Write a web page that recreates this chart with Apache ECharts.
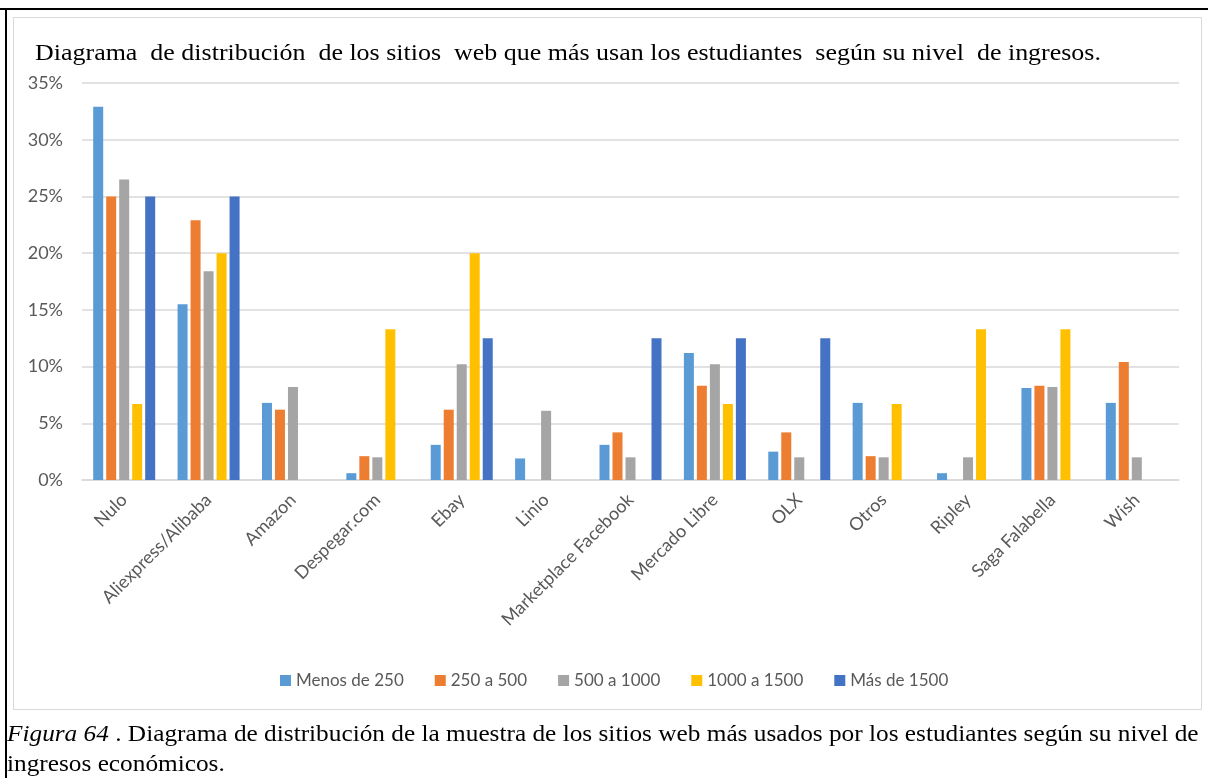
<!DOCTYPE html>
<html>
<head>
<meta charset="utf-8">
<script src="https://cdn.jsdelivr.net/npm/echarts@6/dist/echarts.min.js"></script>
<style>
  html, body { margin: 0; padding: 0; background: #ffffff; }
  #chart { width: 1208px; height: 778px; }
</style>
</head>
<body>
<div id="chart"></div>
<script>
// Sitios web más usados por nivel de ingresos (porcentaje de cada grupo)
const categories = ['Nulo', 'Aliexpress/Alibaba', 'Amazon', 'Despegar.com', 'Ebay', 'Linio',
  'Marketplace Facebook', 'Mercado Libre', 'OLX', 'Otros', 'Ripley', 'Saga Falabella', 'Wish'];
const seriesNames = ['Menos de 250', '250 a 500', '500 a 1000', '1000 a 1500', 'Más de 1500'];
const menos250   = [32.9, 15.5, 6.8, 0.6, 3.1, 1.9, 3.1, 11.2, 2.5, 6.8, 0.6, 8.1, 6.8];
const de250a500  = [25.0, 22.9, 6.2, 2.1, 6.2, 0, 4.2, 8.3, 4.2, 2.1, 0, 8.3, 10.4];
const de500a1000 = [26.5, 18.4, 8.2, 2.0, 10.2, 6.1, 2.0, 10.2, 2.0, 2.0, 2.0, 8.2, 2.0];
const de1000a1500 = [6.7, 20.0, 0, 13.3, 20.0, 0, 0, 6.7, 0, 6.7, 13.3, 13.3, 0];
const mas1500    = [25.0, 25.0, 0, 0, 12.5, 0, 12.5, 12.5, 12.5, 0, 0, 0, 0];
const yTicks = { min: 0, max: 35, step: 5 };

const colors = ['#5B9BD5', '#ED7D31', '#A5A5A5', '#FFC000', '#4472C4'];
const allValues = [menos250, de250a500, de500a1000, de1000a1500, mas1500];

const chartTitle = 'Diagrama  de distribución  de los sitios  web que más usan los estudiantes  según su nivel  de ingresos.';
const captionLine1 = '{i|Figura 64} . Diagrama de distribución de la muestra de los sitios web más usados por los estudiantes según su nivel de';
const captionLine2 = 'ingresos económicos.';

const chart = echarts.init(document.getElementById('chart'), null, { renderer: 'canvas' });

const sansFont = 'Lato, "Open Sans", sans-serif';
const serifFont = '"Liberation Serif", "DejaVu Serif", serif';

chart.setOption({
  animation: false,
  color: colors,
  legend: {
    data: seriesNames,
    top: 667,
    left: 275,
    icon: 'rect',
    itemWidth: 11,
    itemHeight: 11,
    itemGap: 31,
    textStyle: { fontFamily: sansFont, fontSize: 17, color: '#595959' }
  },
  grid: { left: 82, right: 29, top: 83, bottom: 298 },
  xAxis: {
    type: 'category',
    data: categories,
    axisLine: { lineStyle: { color: '#d9d9d9', width: 1.5 } },
    axisTick: { show: false },
    axisLabel: { rotate: 45, margin: 17, interval: 0, fontFamily: sansFont, fontSize: 18, color: '#595959' }
  },
  yAxis: {
    type: 'value',
    min: yTicks.min,
    max: yTicks.max,
    interval: yTicks.step,
    axisLine: { show: false },
    axisTick: { show: false },
    splitLine: { lineStyle: { color: '#d9d9d9', width: 1.5 } },
    axisLabel: { formatter: '{value}%', margin: 19, fontFamily: sansFont, fontSize: 18, color: '#595959' }
  },
  series: seriesNames.map((name, i) => ({
    name: name,
    type: 'bar',
    data: allValues[i],
    barWidth: 10,
    barGap: '30%'
  })),
  graphic: [
    // marco negro exterior (arriba e izquierda)
    { type: 'rect', shape: { x: 0, y: 8, width: 1208, height: 2 }, style: { fill: '#000000' }, z: 10 },
    { type: 'rect', shape: { x: 5, y: 8, width: 2, height: 770 }, style: { fill: '#000000' }, z: 10 },
    // borde gris del área del gráfico
    { type: 'rect', shape: { x: 13.5, y: 17.5, width: 1188, height: 692 },
      style: { fill: 'none', stroke: '#d9d9d9', lineWidth: 1 }, z: 10 },
    // título del gráfico
    { type: 'text', x: 35, y: 42, scaleX: 1.082, z: 10,
      style: { text: chartTitle, fontFamily: serifFont, fontSize: 24, fill: '#000000' } },
    // pie de figura
    { type: 'text', x: 7, y: 723, scaleX: 1.054, z: 10,
      style: {
        text: captionLine1,
        fontFamily: serifFont, fontSize: 24, fill: '#000000',
        rich: { i: { fontStyle: 'italic', fontFamily: serifFont, fontSize: 24 } }
      } },
    { type: 'text', x: 7, y: 753, scaleX: 1.054, z: 10,
      style: { text: captionLine2, fontFamily: serifFont, fontSize: 24, fill: '#000000' } }
  ]
});
</script>
</body>
</html>
